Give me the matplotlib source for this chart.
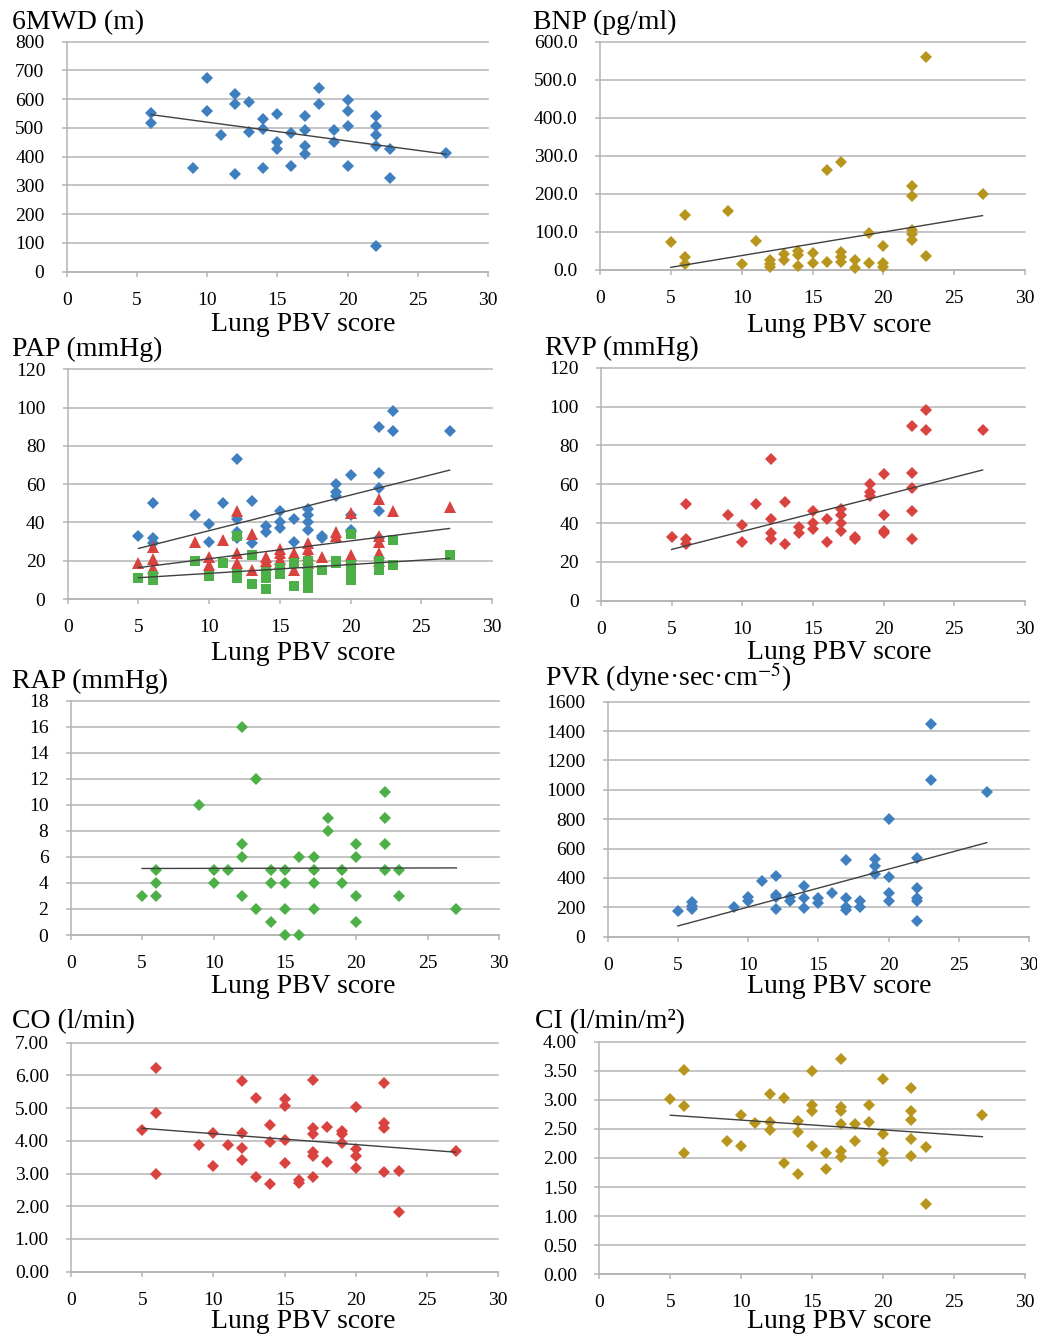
import numpy as np
import matplotlib.pyplot as plt
from matplotlib.ticker import FormatStrFormatter

plt.rcParams['font.family'] = ['Liberation Serif', 'DejaVu Serif']
plt.rcParams['mathtext.fontset'] = 'stix'

# ---- data ----
mwd_x = [6, 6, 9, 10, 10, 11, 12, 12, 12, 13, 13, 14, 14, 14, 15, 15, 15, 16, 16, 17,
         17, 17, 17, 18, 18, 19, 19, 20, 20, 20, 20, 22, 22, 22, 22, 22, 23, 23, 27]
mwd_y = [553, 516, 360, 675, 559, 475, 618, 583, 339, 591, 485, 530, 495, 360, 548, 450, 427, 481, 369, 543,
         493, 438, 408, 638, 585, 493, 450, 597, 559, 507, 369, 543, 507, 475, 438, 90, 427, 327, 412]

bnp_x = [5, 6, 6, 6, 9, 10, 11, 12, 12, 12, 13, 13, 14, 14, 14, 15, 15, 16, 16, 17,
         17, 17, 17, 18, 18, 19, 19, 20, 20, 20, 22, 22, 22, 22, 22, 23, 23, 27]
bnp_y = [73, 145, 33, 15, 156, 15, 77, 26, 16, 9, 41, 26, 50, 39, 11, 44, 18, 263, 20, 283,
         46, 35, 20, 26, 4, 96, 18, 64, 18, 9, 221, 195, 105, 94, 79, 561, 37, 200]

# systolic PAP (blue) == RVP
sys_x = [5, 6, 6, 6, 9, 10, 10, 11, 12, 12, 12, 12, 13, 13, 14, 14, 15, 15, 15, 16, 16,
         17, 17, 17, 17, 18, 18, 19, 19, 19, 20, 20, 20, 20, 22, 22, 22, 22, 22, 23, 23, 27]
sys_y = [33, 50, 32, 29, 44, 39, 30, 50, 73, 42, 35, 32, 51, 29, 38, 35, 46, 40, 37, 42, 30,
         47, 44, 40, 36, 33, 32, 60, 56, 54, 65, 44, 36, 35, 90, 66, 58, 46, 32, 98, 88, 88]

mean_x = [5, 6, 6, 6, 9, 10, 10, 11, 12, 12, 12, 13, 13, 14, 14, 14, 15, 15, 15, 15,
          16, 16, 17, 17, 17, 17, 17, 18, 19, 19, 20, 20, 20, 22, 22, 22, 22, 22, 23, 27]
mean_y = [19, 27, 21, 16, 30, 22, 18, 31, 46, 24, 19, 34, 15, 22, 20, 18, 26, 24, 21, 19,
          24, 15, 29, 26, 23, 21, 19, 22, 35, 33, 45, 23, 21, 52, 33, 30, 24, 20, 46, 48]

dia_x = [5, 6, 6, 9, 10, 11, 12, 12, 12, 13, 13, 14, 14, 14, 15, 15, 16, 16, 17,
         17, 17, 17, 17, 17, 18, 19, 19, 20, 20, 20, 20, 20, 22, 22, 23, 23, 27]
dia_y = [11, 12, 10, 20, 12, 19, 33, 13, 11, 23, 8, 14, 11, 5, 16, 13, 19, 7, 20,
         17, 15, 12, 9, 6, 15, 20, 19, 34, 18, 15, 12, 10, 20, 15, 31, 18, 23]

rap_x = [5, 6, 6, 6, 9, 10, 10, 11, 12, 12, 12, 12, 13, 13, 14, 14, 14, 15, 15, 15, 15,
         16, 16, 17, 17, 17, 17, 18, 18, 19, 19, 20, 20, 20, 20, 22, 22, 22, 22, 23, 23, 27]
rap_y = [3, 5, 4, 3, 10, 5, 4, 5, 16, 7, 6, 3, 12, 2, 5, 4, 1, 5, 4, 2, 0,
         6, 0, 6, 5, 4, 2, 9, 8, 5, 4, 7, 6, 3, 1, 11, 9, 7, 5, 5, 3, 2]

pvr_x = [5, 6, 6, 6, 9, 10, 10, 11, 12, 12, 12, 12, 13, 13, 14, 14, 14, 15, 15, 16, 17,
         17, 17, 17, 18, 18, 19, 19, 19, 20, 20, 20, 20, 22, 22, 22, 22, 22, 23, 23, 27]
pvr_y = [175, 234, 211, 188, 204, 268, 245, 381, 413, 284, 268, 186, 272, 245, 347, 266, 193, 266, 227, 300, 522,
         266, 204, 182, 245, 204, 527, 481, 427, 801, 409, 300, 245, 533, 329, 261, 245, 109, 1448, 1067, 983]

co_x = [5, 6, 6, 6, 9, 10, 10, 11, 12, 12, 12, 12, 13, 13, 14, 14, 14, 15, 15, 15, 15, 16, 16,
        17, 17, 17, 17, 17, 17, 18, 18, 19, 19, 19, 20, 20, 20, 20, 22, 22, 22, 22, 23, 23, 27]
co_y = [4.33, 6.24, 4.84, 2.99, 3.87, 4.25, 3.23, 3.87, 5.83, 4.25, 3.79, 3.41, 5.30, 2.90, 4.48, 3.97, 2.67,
        5.28, 5.06, 4.02, 3.31, 2.80, 2.72, 5.86, 4.38, 4.20, 3.65, 3.54, 2.90, 4.43, 3.36, 4.30, 4.20, 3.94,
        5.04, 3.75, 3.55, 3.18, 5.78, 4.56, 4.38, 3.04, 3.09, 1.83, 3.70]

ci_x = [5, 6, 6, 6, 9, 10, 10, 11, 12, 12, 12, 13, 13, 14, 14, 14, 15, 15, 15, 15, 16, 16,
        17, 17, 17, 17, 17, 17, 18, 18, 19, 19, 20, 20, 20, 20, 22, 22, 22, 22, 22, 23, 23, 27]
ci_y = [3.01, 3.52, 2.89, 2.09, 2.30, 2.74, 2.21, 2.61, 3.10, 2.62, 2.49, 3.03, 1.91, 2.64, 2.45, 1.72,
        3.50, 2.92, 2.80, 2.21, 2.09, 1.81, 3.70, 2.87, 2.81, 2.58, 2.12, 2.01, 2.58, 2.30, 2.92, 2.62,
        3.36, 2.42, 2.09, 1.95, 3.21, 2.80, 2.66, 2.32, 2.04, 2.19, 1.21, 2.74]

# linear trend lines (slope, intercept)
trend_mwd = (-6.55, 585.7)
trend_bnp = (6.18, -23.9)
trend_sys = (1.86, 17.1)
trend_mean = (0.93, 11.75)
trend_dia = (0.46, 8.8)
trend_rap = (0.002, 5.1)
trend_pvr = (25.8, -56.0)
trend_co = (-0.0332, 4.55)
trend_ci = (-0.0168, 2.82)

BLUE = '#3f7fc0'
RED = '#d8433f'
GREEN = '#4caf47'
GOLD = '#b8961e'
GRID = '#b4b4b4'

W, H = 1037, 1336
fig = plt.figure(figsize=(W / 100, H / 100), dpi=100)


def panel(rect, ymax, ystep, yfmt, title, tpos, lpos):
    x0, x1, yt, yb = rect
    ax = fig.add_axes([x0 / W, 1 - yb / H, (x1 - x0) / W, (yb - yt) / H])
    ax.set_xlim(0, 30)
    ax.set_ylim(0, ymax)
    ax.set_xticks(np.arange(0, 31, 5))
    ax.set_yticks(np.arange(0, ymax + ystep / 2, ystep))
    ax.yaxis.set_major_formatter(FormatStrFormatter(yfmt))
    ax.grid(axis='y', color=GRID, lw=1.1)
    for gl in ax.get_ygridlines():
        gl.set_clip_on(False)
    ax.set_axisbelow(True)
    ax.spines['top'].set_visible(False)
    ax.spines['right'].set_visible(False)
    for s in ['left', 'bottom']:
        ax.spines[s].set_color(GRID)
        ax.spines[s].set_linewidth(1.1)
    ax.tick_params(direction='out', length=3.5, width=1.1, color=GRID, labelsize=14)
    ax.tick_params(axis='y', pad=12.5)
    ax.tick_params(axis='x', pad=11)
    fig.text(tpos[0] / W, 1 - tpos[1] / H, title, fontsize=20, ha='left', va='baseline')
    fig.text(lpos[0] / W, 1 - lpos[1] / H, 'Lung PBV score', fontsize=20, ha='center', va='baseline')
    return ax


def series(ax, x, y, trend, color, marker='D', ms=5.7):
    ax.plot(x, y, marker, ms=ms, color=color, mew=0, clip_on=False, zorder=3)
    xs = np.array([min(x), max(x)])
    ax.plot(xs, trend[0] * xs + trend[1], color='#404040', lw=1.0, zorder=4)


ax = panel((66.7, 488, 41.7, 271.7), 800, 100, '%d', '6MWD (m)', (12, 29), (303, 331))
series(ax, mwd_x, mwd_y, trend_mwd, BLUE)

ax = panel((600, 1025, 41.7, 270), 600, 100, '%.1f', 'BNP (pg/ml)', (533, 29), (839, 332))
series(ax, bnp_x, bnp_y, trend_bnp, GOLD)

ax = panel((67.7, 492, 369.3, 599), 120, 20, '%d', 'PAP (mmHg)', (12, 356), (303, 660))
series(ax, sys_x, sys_y, trend_sys, BLUE)
series(ax, mean_x, mean_y, trend_mean, RED, marker='^', ms=8.5)
series(ax, dia_x, dia_y, trend_dia, GREEN, marker='s', ms=7)

ax = panel((601, 1025, 367.7, 600.7), 120, 20, '%d', 'RVP (mmHg)', (545, 355), (839, 659))
series(ax, sys_x, sys_y, trend_sys, RED)

ax = panel((70.7, 499.3, 700.7, 935), 18, 2, '%d', 'RAP (mmHg)', (12, 688), (303, 993))
series(ax, rap_x, rap_y, trend_rap, GREEN)

ax = panel((607.7, 1029, 701.7, 936.7), 1600, 200, '%d',
           'PVR (dyne\u00b7sec\u00b7cm$^{-5}$)', (545, 686), (839, 993))
series(ax, pvr_x, pvr_y, trend_pvr, BLUE)

ax = panel((71, 498.3, 1042.7, 1271.7), 7, 1, '%.2f', 'CO (l/min)', (12, 1028), (303, 1328))
series(ax, co_x, co_y, trend_co, RED)

ax = panel((599.3, 1025, 1041.7, 1274.3), 4, 0.5, '%.2f', 'CI (l/min/m\u00b2)', (535, 1028), (839, 1328))
series(ax, ci_x, ci_y, trend_ci, GOLD)

fig.savefig('out.png', dpi=100)
